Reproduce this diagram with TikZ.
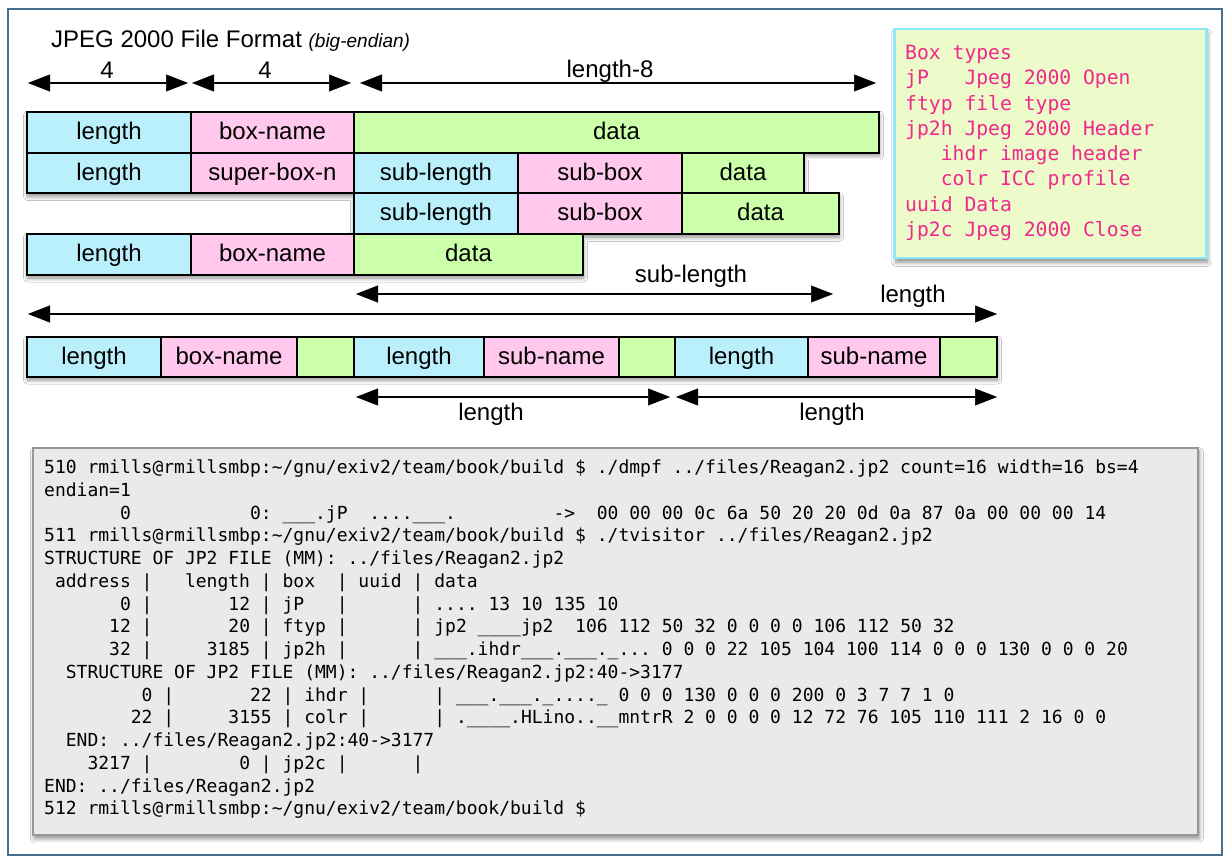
\documentclass[tikz,border=0pt]{standalone}
\usepackage{fontspec}
\setmainfont{Liberation Sans}
\newfontfamily\monofont{DejaVu Sans Mono}
\usetikzlibrary{arrows.meta,shadows.blur}
\definecolor{cyanbox}{RGB}{185,240,252}
\definecolor{pinkbox}{RGB}{255,200,236}
\definecolor{greenbox}{RGB}{204,255,170}
\definecolor{framecol}{RGB}{70,110,145}
\definecolor{panelfill}{RGB}{237,250,202}
\definecolor{panelborder}{RGB}{140,232,246}
\definecolor{pinktext}{RGB}{240,40,140}
\definecolor{termfill}{RGB}{234,234,234}
\definecolor{termborder}{RGB}{150,150,150}
\frenchspacing
\begin{document}
\begin{tikzpicture}[x=1pt,y=-1pt,
  cell/.style={draw=black, line width=2pt, anchor=north west, inner sep=0pt,
    font=\fontsize{24}{28}\selectfont, text height=17.5pt, text depth=3.5pt},
  cy/.style={cell, fill=cyanbox},
  pk/.style={cell, fill=pinkbox},
  gr/.style={cell, fill=greenbox},
  bigtip/.tip={Triangle[length=22pt,width=17pt,line width=0.5pt,fill=black,color=black]},
  dimarrow/.style={draw=black, line width=2pt, bigtip-bigtip},
  lbl/.style={anchor=base, inner sep=0pt, font=\fontsize{24}{28}\selectfont},
  softshadow/.style={blur shadow={shadow xshift=1.5pt, shadow yshift=-4pt, shadow blur radius=4pt, shadow blur steps=8, shadow opacity=45}},
  termline/.style={anchor=base west, inner sep=0pt, font=\monofont\fontsize{18}{22}\selectfont, text=black},
  panelline/.style={anchor=base west, inner sep=0pt, font=\monofont\fontsize{19.7}{24}\selectfont, text=pinktext},
]
\useasboundingbox (0,0) rectangle (1225,858);
\fill[white] (0,0) rectangle (1225,858);
\draw[framecol, line width=2pt] (8,9) rectangle (1222,855);

% title
\node[anchor=base west, inner sep=0pt, font=\fontsize{24}{28}\selectfont] (title) at (51,48)
  {JPEG 2000 File Format {\fontsize{19}{22}\selectfont\itshape (big-endian)}};

% top dimension arrows
\coordinate (a1s) at (28,83);  \coordinate (a1e) at (188,83);
\coordinate (a2s) at (192,83); \coordinate (a2e) at (351,83);
\coordinate (a3s) at (360,83); \coordinate (a3e) at (876,83);
\draw[dimarrow] (a1s) -- (a1e);
\draw[dimarrow] (a2s) -- (a2e);
\draw[dimarrow] (a3s) -- (a3e);
\node[lbl] (l4a) at (107,79) {4};
\node[lbl] (l4b) at (265,79) {4};
\node[lbl] (l8) at (610,78) {length-8};

% shadows of box groups
\fill[white, softshadow] (26,111) -- (878,111) -- (878,151.75) -- (803,151.75) -- (803,192.5)
  -- (838,192.5) -- (838,233.25) -- (582,233.25) -- (582,274) -- (26,274) -- (26,233.25)
  -- (353,233.25) -- (353,192.5) -- (26,192.5) -- cycle;
\fill[white, softshadow] (26,336) rectangle (996,376);

% row 1
\node[cy, minimum width=164pt, minimum height=40.75pt] (r1a) at (26,111) {length};
\node[pk, minimum width=163pt, minimum height=40.75pt] (r1b) at (190,111) {box-name};
\node[gr, minimum width=525pt, minimum height=40.75pt] (r1c) at (353,111) {data};
% row 2
\node[cy, minimum width=164pt, minimum height=40.75pt] (r2a) at (26,151.75) {length};
\node[pk, minimum width=163pt, minimum height=40.75pt] (r2b) at (190,151.75) {super-box-n};
\node[cy, minimum width=164pt, minimum height=40.75pt] (r2c) at (353,151.75) {sub-length};
\node[pk, minimum width=164pt, minimum height=40.75pt] (r2d) at (517,151.75) {sub-box};
\node[gr, minimum width=122pt, minimum height=40.75pt] (r2e) at (681,151.75) {data};
% row 3
\node[cy, minimum width=164pt, minimum height=40.75pt] (r3c) at (353,192.5) {sub-length};
\node[pk, minimum width=164pt, minimum height=40.75pt] (r3d) at (517,192.5) {sub-box};
\node[gr, minimum width=157pt, minimum height=40.75pt] (r3e) at (681,192.5) {data};
% row 4
\node[cy, minimum width=164pt, minimum height=40.75pt] (r4a) at (26,233.25) {length};
\node[pk, minimum width=163pt, minimum height=40.75pt] (r4b) at (190,233.25) {box-name};
\node[gr, minimum width=229pt, minimum height=40.75pt] (r4c) at (353,233.25) {data};

% middle dimension arrows
\coordinate (bs) at (356,294); \coordinate (be) at (833,294);
\coordinate (cs) at (28,314);  \coordinate (ce) at (997,314);
\draw[dimarrow] (bs) -- (be);
\draw[dimarrow] (cs) -- (ce);
\node[lbl] (lsub) at (691,283) {sub-length};
\node[lbl] (llen) at (913,302) {length};

% bottom row
\node[cy, minimum width=134pt, minimum height=40pt] (b1) at (26,336) {length};
\node[pk, minimum width=136pt, minimum height=40pt] (b2) at (160,336) {box-name};
\node[gr, minimum width=57pt, minimum height=40pt] (b3) at (296,336) {};
\node[cy, minimum width=130pt, minimum height=40pt] (b4) at (353,336) {length};
\node[pk, minimum width=135pt, minimum height=40pt] (b5) at (483,336) {sub-name};
\node[gr, minimum width=56pt, minimum height=40pt] (b6) at (618,336) {};
\node[cy, minimum width=133pt, minimum height=40pt] (b7) at (674,336) {length};
\node[pk, minimum width=132pt, minimum height=40pt] (b8) at (807,336) {sub-name};
\node[gr, minimum width=57pt, minimum height=40pt] (b9) at (939,336) {};

% lower dimension arrows
\coordinate (ds) at (356,397); \coordinate (de) at (670,397);
\coordinate (es) at (676,397); \coordinate (ee) at (997,397);
\draw[dimarrow] (ds) -- (de);
\draw[dimarrow] (es) -- (ee);
\node[lbl] (lla) at (491,420) {length};
\node[lbl] (llb) at (832,420) {length};

% box types panel
\node[draw=panelborder, line width=2.5pt, fill=panelfill, softshadow, anchor=north west,
  minimum width=312pt, minimum height=229pt, inner sep=0pt] (panel) at (893,28) {};
\node[panelline] (p1) at (905,59.5) {Box~types};
\node[panelline] (p2) at (905,84.8) {jP~~~Jpeg~2000~Open};
\node[panelline] (p3) at (905,110.1) {ftyp~file~type};
\node[panelline] (p4) at (905,135.4) {jp2h~Jpeg~2000~Header};
\node[panelline] (p5) at (905,160.7) {~~~ihdr~image~header};
\node[panelline] (p6) at (905,186.0) {~~~colr~ICC~profile};
\node[panelline] (p7) at (905,211.3) {uuid~Data};
\node[panelline] (p8) at (905,236.6) {jp2c~Jpeg~2000~Close};

% terminal
\node[draw=termborder, line width=1.5pt, fill=termfill, softshadow, anchor=north west,
  minimum width=1165pt, minimum height=387pt, inner sep=0pt] (term) at (32,447) {};
\node[termline] (t1) at (44,473.5) {510~rmills@rmillsmbp:\textasciitilde/gnu/exiv2/team/book/build~\$~./dmpf~../files/Reagan2.jp2~count=16~width=16~bs=4};
\node[termline] (t2) at (44,496.25) {endian=1};
\node[termline] (t3) at (44,519.0) {~~~~~~~0~~~~~~~~~~~0:~\_\_\_.jP~~....\_\_\_.~~~~~~~~~->~~00~00~00~0c~6a~50~20~20~0d~0a~87~0a~00~00~00~14};
\node[termline] (t4) at (44,541.75) {511~rmills@rmillsmbp:\textasciitilde/gnu/exiv2/team/book/build~\$~./tvisitor~../files/Reagan2.jp2};
\node[termline] (t5) at (44,564.5) {STRUCTURE~OF~JP2~FILE~(MM):~../files/Reagan2.jp2};
\node[termline] (t6) at (44,587.25) {~address~|~~~length~|~box~~|~uuid~|~data};
\node[termline] (t7) at (44,610.0) {~~~~~~~0~|~~~~~~~12~|~jP~~~|~~~~~~|~....~13~10~135~10};
\node[termline] (t8) at (44,632.75) {~~~~~~12~|~~~~~~~20~|~ftyp~|~~~~~~|~jp2~\_\_\_\_jp2~~106~112~50~32~0~0~0~0~106~112~50~32};
\node[termline] (t9) at (44,655.5) {~~~~~~32~|~~~~~3185~|~jp2h~|~~~~~~|~\_\_\_.ihdr\_\_\_.\_\_\_.\_...~0~0~0~22~105~104~100~114~0~0~0~130~0~0~0~20};
\node[termline] (t10) at (44,678.25) {~~STRUCTURE~OF~JP2~FILE~(MM):~../files/Reagan2.jp2:40->3177};
\node[termline] (t11) at (44,701.0) {~~~~~~~~~0~|~~~~~~~22~|~ihdr~|~~~~~~|~\_\_\_.\_\_\_.\_....\_~0~0~0~130~0~0~0~200~0~3~7~7~1~0};
\node[termline] (t12) at (44,723.75) {~~~~~~~~22~|~~~~~3155~|~colr~|~~~~~~|~.\_\_\_\_.HLino..\_\_mntrR~2~0~0~0~0~12~72~76~105~110~111~2~16~0~0};
\node[termline] (t13) at (44,746.5) {~~END:~../files/Reagan2.jp2:40->3177};
\node[termline] (t14) at (44,769.25) {~~~~3217~|~~~~~~~~0~|~jp2c~|~~~~~~|};
\node[termline] (t15) at (44,792.0) {END:~../files/Reagan2.jp2};
\node[termline] (t16) at (44,814.75) {512~rmills@rmillsmbp:\textasciitilde/gnu/exiv2/team/book/build~\$};
\end{tikzpicture}
\end{document}
